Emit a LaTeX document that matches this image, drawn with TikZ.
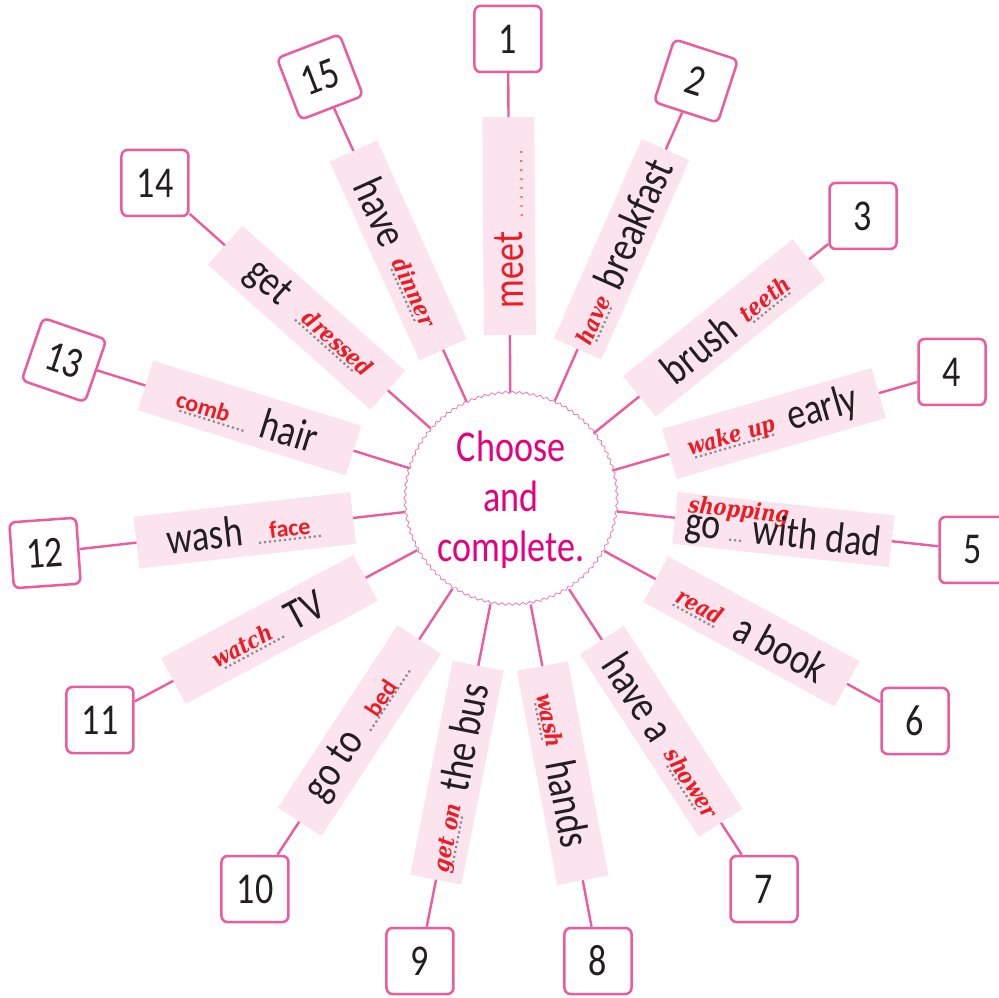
\documentclass[tikz,border=0pt]{standalone}
\usepackage{fontspec}
\usepackage{xcolor}
\usepackage{tikz}
\usetikzlibrary{backgrounds,decorations.pathmorphing}
\newfontfamily\labelfam[FakeStretch=0.82]{Carlito}
\newfontfamily\answerserif[FakeStretch=0.85]{DejaVu Serif}
\newfontfamily\answersans{Carlito}
\definecolor{spokepink} {RGB}{236,90,160}
\definecolor{tagpink}   {RGB}{252,228,238}
\definecolor{hubmagenta}{RGB}{230,0,126}
\definecolor{hubline}   {RGB}{240,120,180}
\definecolor{ansred}    {RGB}{237,28,36}
\definecolor{dotgray}   {RGB}{140,140,140}
\definecolor{meetdot}   {RGB}{242,120,90}
\definecolor{inkblack}  {RGB}{35,31,32}
\newcommand\lblfont{\labelfam\fontsize{44}{50}\selectfont}
\newcommand\ansit{\answerserif\bfseries\itshape\fontsize{23}{23}\selectfont}
\newcommand\ansup{\answersans\bfseries\fontsize{24}{24}\selectfont}
% dotted writing line: [pitch]{length}{colour}
\newcommand\dotline[3][5pt]{\textcolor{#3}{\makebox[#2]{\leaders\hbox to #1{\hss\rule{2.2pt}{2.2pt}\hss}\hfill}}}
% answer written over a dotted line: [raise]{length}{answer}
\newcommand\gap[3][4pt]{\dotline{#2}{dotgray}\hspace{-#2}\makebox[#2]{\raisebox{#1}{\textcolor{ansred}{#3}}}}
\tikzset{
  hub/.style   ={circle, minimum size=212pt, inner sep=0pt, fill=white,
                 draw=hubline, line width=0.8pt, decorate,
                 decoration={snake, amplitude=1.2pt, segment length=7pt},
                 text=hubmagenta, font=\lblfont, align=center},
  tag/.style   ={fill=tagpink, minimum width=218pt, minimum height=52pt,
                 inner sep=0pt, text=inkblack, font=\lblfont},
  numbox/.style={draw=spokepink, line width=2.5pt, rounded corners=6pt,
                 fill=white, minimum width=67pt, minimum height=66pt,
                 inner sep=0pt, text=inkblack, font=\lblfont},
  spoke/.style ={draw=spokepink, line width=2.4pt},
}

\begin{document}
\begin{tikzpicture}[x=1pt,y=1pt]
  \useasboundingbox (-511,-498) rectangle (488,500);
  \node[hub] (hub) at (0,0) {Choose\\and\\complete.};
  %% labels along the spokes
  \node[tag, rotate=90.4]  (t1)  at (90.4:274)   {\textcolor{ansred}{meet}\hspace{12pt}\dotline[9pt]{76pt}{meetdot}};
  \node[tag, rotate=66.2]  (t2)  at (66.2:274)   {\gap{40pt}{\ansit have}\hspace{16pt}breakfast};
  \node[tag, rotate=38.9]  (t3)  at (38.9:274)   {brush\hspace{16pt}\gap{50pt}{\ansit teeth}};
  \node[tag, rotate=16.2]  (t4)  at (16.2:274)   {\gap{85pt}{\ansit wake up}\hspace{16pt}early};
  \node[tag, rotate=-6.2]  (t5)  at (-6.2:274)   {go\hspace{8pt}\gap[24pt]{16pt}{\ansit shopping}\hspace{8pt}with dad};
  \node[tag, rotate=-28.7] (t6)  at (-28.7:274)  {\gap{52pt}{\ansit read}\hspace{16pt}a book};
  \node[tag, rotate=-57]   (t7)  at (-57:276)    {have a\hspace{24pt}\gap{58pt}{\ansit shower}};
  \node[tag, rotate=-79.3] (t8)  at (-79.3:278)  {\gap{42pt}{\ansit wash}\hspace{20pt}hands};
  \node[tag, rotate=78.8]  (t9)  at (-101.2:278) {\gap{50pt}{\ansit get on}\hspace{22pt}the bus};
  \node[tag, rotate=56.7]  (t10) at (-123.3:276) {go to\hspace{10pt}\gap[2pt]{76pt}{\ansup bed\hspace{6pt}}};
  \node[tag, rotate=28.2]  (t11) at (-151.8:274) {\gap{74pt}{\ansit watch\hspace{20pt}}\hspace{6pt}TV};
  \node[tag, rotate=6.5]   (t12) at (-173.5:268) {wash\hspace{14pt}\gap{67pt}{\ansup face}};
  \node[tag, rotate=-17.4] (t13) at (162.6:274)  {\gap{74pt}{\ansup comb\hspace{28pt}}\hspace{10pt}hair};
  \node[tag, rotate=-41.7] (t14) at (138.3:274)  {get\hspace{20pt}\gap{84pt}{\hspace{14pt}\ansit dressed}};
  \node[tag, rotate=-65.7] (t15) at (114.3:274)  {have\hspace{20pt}\gap{64pt}{\ansit dinner}};
  %% number boxes
  \node[numbox]             (b1)  at (-3,461)    {1};
  \node[numbox, rotate=-18] (b2)  at (185,419)   {2};
  \node[numbox]             (b3)  at (352,284)   {3};
  \node[numbox]             (b4)  at (441,128)   {4};
  \node[numbox]             (b5)  at (462,-50)   {5};
  \node[numbox]             (b6)  at (404,-221)  {6};
  \node[numbox]             (b7)  at (253,-389)  {7};
  \node[numbox]             (b8)  at (87,-461)   {8};
  \node[numbox]             (b9)  at (-91,-461)  {9};
  \node[numbox]             (b10) at (-256,-389) {10};
  \node[numbox]             (b11) at (-411,-220) {11};
  \node[numbox, rotate=4]   (b12) at (-466,-53)  {12};
  \node[numbox, rotate=-19] (b13) at (-447,140)  {13};
  \node[numbox]             (b14) at (-356,317)  {14};
  \node[numbox, rotate=21]  (b15) at (-191,423)  {15};
  %% spokes behind everything
  \begin{scope}[on background layer]
    \foreach \i in {1,...,15}
      \draw[spoke] (hub) -- (b\i);
  \end{scope}
\end{tikzpicture}
\end{document}
